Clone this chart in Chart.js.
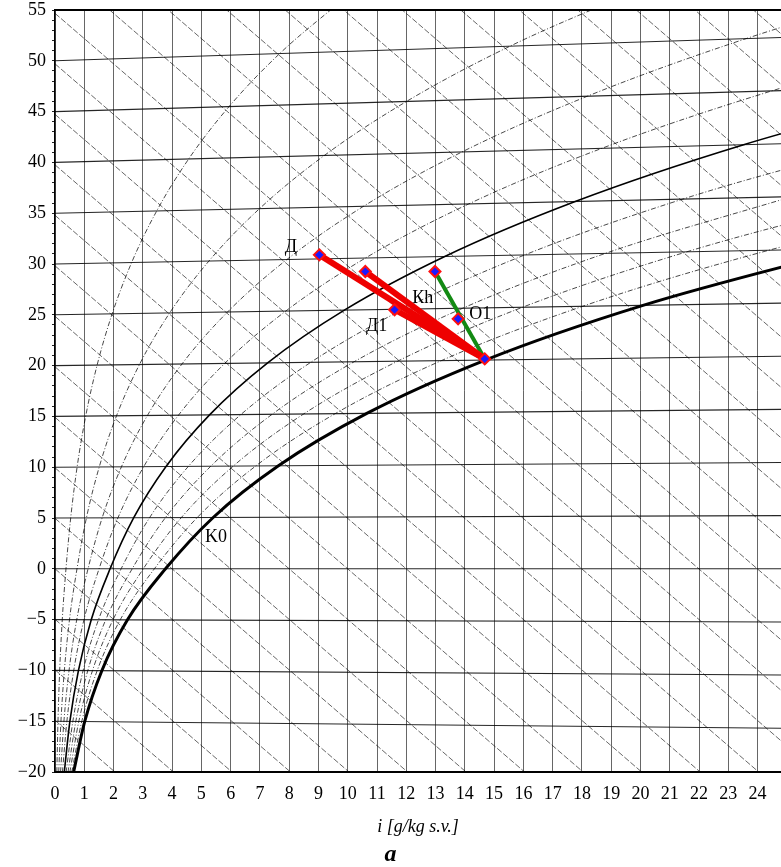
<!DOCTYPE html>
<html>
<head>
<meta charset="utf-8">
<script src="https://cdn.jsdelivr.net/npm/chart.js@4.4.0/dist/chart.umd.min.js"></script>
<style>
  html, body { margin: 0; padding: 0; background: #fff; overflow: hidden; }
  #wrap { width: 781px; height: 867px; }
</style>
</head>
<body>
<div id="wrap"><canvas id="chart"></canvas></div>
<script>
// isotherms, °C (also the left axis labels)
const isoTemps = [-20, -15, -10, -5, 0, 5, 10, 15, 20, 25, 30, 35, 40, 45, 50, 55];
// isotherms rise a little to the right: fraction of t per g/kg
const isoRise = 0.00185;

// enthalpy lines, kJ/kg (the diagonals)
const enthalpyLevels = [-20, -15, -10, -5, 0, 5, 10, 15, 20, 25, 30, 35, 40, 45, 50, 55, 60,
  65, 70, 75, 80, 85, 90, 95, 100, 105, 110, 115, 120];

// relative humidity curves, %
const rhLevels = [10, 20, 30, 40, 50, 60, 70, 80, 90, 100];
// moisture content (g/kg) of each curve where it meets isoTemps
const rhMoisture = [
  [0.063, 0.102, 0.160, 0.248, 0.375, 0.536, 0.755, 1.049, 1.439, 1.952, 2.618, 3.475, 4.566, 5.946, 7.675, 9.828],
  [0.127, 0.203, 0.320, 0.495, 0.751, 1.073, 1.512, 2.101, 2.885, 3.916, 5.258, 6.988, 9.200, 12.007, 15.543, 19.97],
  [0.190, 0.305, 0.480, 0.743, 1.128, 1.611, 2.270, 3.157, 4.338, 5.893, 7.920, 10.541, 13.903, 18.185, 23.609, 30.44],
  [0.254, 0.406, 0.640, 0.990, 1.505, 2.150, 3.031, 4.217, 5.797, 7.882, 10.605, 14.135, 18.677, 24.486, 31.88],
  [0.317, 0.508, 0.800, 1.238, 1.882, 2.690, 3.793, 5.280, 7.264, 9.884, 13.314, 17.770, 23.523, 30.91],
  [0.380, 0.610, 0.960, 1.486, 2.259, 3.231, 4.557, 6.347, 8.737, 11.898, 16.045, 21.446, 28.44],
  [0.444, 0.711, 1.120, 1.733, 2.637, 3.772, 5.322, 7.417, 10.217, 13.925, 18.800, 25.164],
  [0.507, 0.813, 1.280, 1.981, 3.016, 4.315, 6.091, 8.491, 11.704, 15.966, 21.579, 28.93],
  [0.571, 0.914, 1.440, 2.228, 3.395, 4.859, 6.861, 9.569, 13.198, 18.020, 24.383, 32.73],
  [0.634, 1.016, 1.600, 2.476, 3.775, 5.403, 7.632, 10.651, 14.699, 20.086, 27.209]
];

// process points: moisture g/kg, chart y
const markNames = ['Д', 'Д2', 'O', 'Д1', 'O1', 'K'];
const markD = [9.03, 10.6, 12.98, 11.6, 13.77, 14.68];
const markY = [30.9, 29.26, 29.26, 25.5, 24.6, 20.66];
const redFrom = [0, 1, 3];
const greenFrom = [2];
const endMark = 5;

// text labels
const labelText = ['Д', 'Кh', 'Д1', 'O1', 'K0'];
const labelD = [7.85, 12.2, 10.62, 14.15, 5.12];
const labelY = [31.6, 26.6, 23.9, 25.1, 3.15];

const xMax = 24.8;
const serif = "'Liberation Serif', 'Times New Roman', serif";
Chart.defaults.font.family = serif;
Chart.defaults.color = '#000';

const datasets = [];

// marks and process lines on top
const pt = i => ({ x: markD[i], y: markY[i] });
datasets.push({
  data: markD.map((d, i) => pt(i)),
  showLine: false,
  pointStyle: 'rectRot',
  pointRadius: 5.5,
  pointBackgroundColor: '#1a1aff',
  pointBorderColor: '#ff1010',
  pointBorderWidth: 2,
  order: 0
});
redFrom.forEach(i => datasets.push({
  data: [pt(i), pt(endMark)], showLine: true, borderColor: '#ee0000', borderWidth: 6,
  pointRadius: 0, order: 1
}));
greenFrom.forEach(i => datasets.push({
  data: [pt(i), pt(endMark)], showLine: true, borderColor: '#138a13', borderWidth: 4,
  pointRadius: 0, order: 1
}));

// relative humidity curves
rhLevels.forEach((rh, k) => {
  const pts = rhMoisture[k].map((d, j) => ({ x: d, y: isoTemps[j] * (1 + isoRise * d) }));
  let width = 0.9, dash = [5, 2, 1, 2], color = 'rgba(0,0,0,0.8)';
  if (rh === 50) { width = 1.6; dash = []; color = '#000'; }
  if (rh === 100) { width = 3; dash = []; color = '#000'; }
  datasets.push({
    data: pts, showLine: true, borderColor: color, borderWidth: width, borderDash: dash,
    cubicInterpolationMode: 'monotone', pointRadius: 0, order: 3
  });
});

// isotherms
isoTemps.forEach(t => datasets.push({
  data: [{ x: 0, y: t }, { x: xMax, y: t * (1 + isoRise * xMax) }],
  showLine: true, borderColor: 'rgba(0,0,0,0.85)', borderWidth: 1.1, pointRadius: 0, order: 5
}));

// enthalpy lines
enthalpyLevels.forEach(h => datasets.push({
  data: [{ x: 0, y: h / 1.006 }, { x: 30, y: (h - 2.501 * 30) / 1.006 }],
  showLine: true, borderColor: 'rgba(0,0,0,0.75)', borderWidth: 0.8, borderDash: [6, 2],
  pointRadius: 0, order: 6
}));

const extras = {
  id: 'extras',
  afterDatasetsDraw(chart) {
    const { ctx, chartArea, scales } = chart;
    ctx.save();
    ctx.strokeStyle = '#000';
    ctx.lineWidth = 2;
    ctx.beginPath();
    ctx.moveTo(chartArea.left, chartArea.top);
    ctx.lineTo(chartArea.right, chartArea.top);
    ctx.stroke();
    ctx.fillStyle = '#000';
    ctx.font = '18px ' + serif;
    ctx.textAlign = 'left';
    ctx.textBaseline = 'middle';
    labelText.forEach((s, i) => {
      ctx.fillText(s, scales.x.getPixelForValue(labelD[i]), scales.y.getPixelForValue(labelY[i]));
    });
    ctx.restore();
  }
};

new Chart(document.getElementById('chart'), {
  type: 'scatter',
  data: { datasets },
  options: {
    responsive: true,
    maintainAspectRatio: false,
    animation: false,
    layout: { autoPadding: false, padding: { top: 10, right: 0, left: 0, bottom: 0 } },
    plugins: {
      legend: { display: false },
      tooltip: { enabled: false },
      title: {
        display: true, text: 'a', position: 'bottom', color: '#000',
        font: { size: 24, weight: 'bold', style: 'italic', family: serif, lineHeight: 1 },
        padding: { top: 0, bottom: 0 }
      }
    },
    scales: {
      x: {
        type: 'linear', min: 0, max: xMax,
        afterFit: s => { s.height = 71; s.paddingLeft = 0; s.paddingRight = 0; },
        ticks: { stepSize: 1, includeBounds: false, autoSkip: false, maxRotation: 0,
          padding: 11, font: { size: 18 }, color: '#000' },
        grid: { color: 'rgba(0,0,0,0.6)', lineWidth: 1, drawTicks: false },
        border: { color: '#000', width: 2 },
        title: { display: true, text: 'i [g/kg s.v.]', color: '#000',
          font: { size: 18, style: 'italic' }, padding: { top: 4, bottom: 5 } }
      },
      y: {
        type: 'linear', min: -20, max: 55,
        afterFit: s => { s.width = 55; s.paddingTop = 0; s.paddingBottom = 0; },
        ticks: {
          stepSize: 1, autoSkip: false, padding: 6, font: { size: 18 }, color: '#000',
          callback: v => (v % 5 === 0 ? String(v).replace('-', '\u2212') : '')
        },
        grid: { drawOnChartArea: false, tickLength: 3, tickColor: '#222' },
        border: { color: '#000', width: 1.5 }
      }
    }
  },
  plugins: [extras]
});
</script>
</body>
</html>
